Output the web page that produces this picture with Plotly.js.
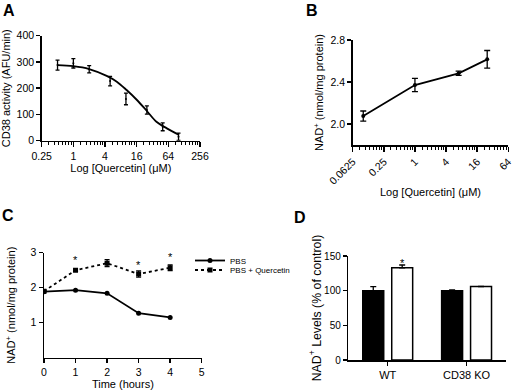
<!DOCTYPE html>
<html><head><meta charset="utf-8">
<script src="https://cdn.plot.ly/plotly-3.0.1.min.js"></script>
<style>html,body{margin:0;padding:0;background:#fff}#chart{width:512px;height:391px}</style>
</head><body><div id="chart"></div>
<script>
// ---------- Panel A ----------
const concA = [0.5, 1, 2, 5, 10, 25, 50, 100];
const cd38A = [288, 295, 272, 227, 159, 117, 53, 15];
const errA = [19, 18, 14, 18, 22, 16, 15, 14];
const fitConcA = [0.5, 1, 2, 4.3, 6.7, 10.3, 16, 24.8, 38, 60, 102];
const fitA = [288, 284, 273, 247, 225, 193, 156, 114, 72, 47, 22];
const tickA = [0.25, 1, 4, 16, 64, 256];
const tickTextA = ['0.25', '1', '4', '16', '64', '256'];
// ---------- Panel B ----------
const concB = [0.1, 1, 7, 25];
const nadB = [2.076, 2.371, 2.483, 2.616];
const errB = [0.048, 0.063, 0.02, 0.084];
const tickB = [0.0625, 0.25, 1, 4, 16, 64];
const tickTextB = ['0.0625', '0.25', '1', '4', '16', '64'];
// ---------- Panel C ----------
const timeC = [0, 1, 2, 3, 4];
const pbsC = [1.886, 1.93, 1.84, 1.27, 1.15];
const pbsQC = [1.9, 2.50, 2.70, 2.39, 2.57];
const errQC = [0, 0.03, 0.1, 0.09, 0.08];
const starTimeC = [1, 2, 3, 4];
const starYC = [2.87, 3.08, 2.74, 2.95];
// ---------- Panel D ----------
const groupsD = ['WT', 'CD38 KO'];
const ctrlD = [100, 100];
const ctrlErrD = [5.8, 1];
const querD = [133, 106];
const querErrD = [4, 0];

const W = 512, H = 391;
const dx = (a, b) => [a / W, b / W];
const dy = (top, bot) => [1 - bot / H, 1 - top / H];

function minorTicks(majors) {
  const out = [];
  for (let i = 0; i < majors.length - 1; i++) {
    const a = majors[i];
    for (let k = 1; k <= 7; k++) out.push(a * (1 + k * 3 / 8));
  }
  return out;
}

const FONT = 'Liberation Sans, Arial, sans-serif';
const base = {
  showline: true, linecolor: '#000', linewidth: 1.5,
  ticks: 'outside', ticklen: 4, tickwidth: 1.5, tickcolor: '#000',
  showgrid: false, zeroline: false, tickfont: {size: 10.5, color: '#000'},
  ticklabeloverflow: 'allow', fixedrange: true
};
const ttl = (t, s, f) => ({text: t, font: {size: f || 11, color: '#000'}, standoff: s});
const eb = (arr, w) => ({type: 'data', array: arr, visible: true, color: '#000', thickness: 1.3, width: w});

const traces = [
  // A
  {x: fitConcA, y: fitA, xaxis: 'x', yaxis: 'y', mode: 'lines', line: {color: '#000', width: 1.8, shape: 'spline'}, showlegend: false, hoverinfo: 'skip'},
  {x: concA, y: cd38A, xaxis: 'x', yaxis: 'y', mode: 'markers', marker: {color: '#000', size: 2}, error_y: eb(errA, 2), showlegend: false},
  // B
  {x: concB, y: nadB, xaxis: 'x2', yaxis: 'y2', mode: 'lines+markers', line: {color: '#000', width: 1.8}, marker: {color: '#000', size: 4}, error_y: eb(errB, 3), showlegend: false},
  // C
  {x: timeC, y: pbsC, xaxis: 'x3', yaxis: 'y3', mode: 'lines+markers', name: 'PBS', legend: 'legend', line: {color: '#000', width: 1.8}, marker: {color: '#000', size: 5, symbol: 'circle'}},
  {x: timeC, y: pbsQC, xaxis: 'x3', yaxis: 'y3', mode: 'lines+markers', name: 'PBS + Quercetin', legend: 'legend2', line: {color: '#000', width: 1.8, dash: 'dot'}, marker: {color: '#000', size: 5, symbol: 'square'}, error_y: eb(errQC, 2.5)},
  // D
  {x: groupsD, y: ctrlD, xaxis: 'x4', yaxis: 'y4', type: 'bar', marker: {color: '#000', line: {color: '#000', width: 1.5}}, error_y: Object.assign(eb(ctrlErrD, 3), {symmetric: false, arrayminus: [0, 0]}), showlegend: false},
  {x: groupsD, y: querD, xaxis: 'x4', yaxis: 'y4', type: 'bar', marker: {color: '#fff', line: {color: '#000', width: 1.5}}, error_y: Object.assign(eb(querErrD, 3), {symmetric: false, arrayminus: [0, 0]}), showlegend: false}
];

const annotations = [
  {text: '<b>A</b>', x: 1 / W, y: 1, xref: 'paper', yref: 'paper', xanchor: 'left', yanchor: 'top', showarrow: false, font: {size: 16, color: '#000'}},
  {text: '<b>B</b>', x: 304 / W, y: 1, xref: 'paper', yref: 'paper', xanchor: 'left', yanchor: 'top', showarrow: false, font: {size: 16, color: '#000'}},
  {text: '<b>C</b>', x: 0, y: 1 - 205 / H, xref: 'paper', yref: 'paper', xanchor: 'left', yanchor: 'top', showarrow: false, font: {size: 16, color: '#000'}},
  {text: '<b>D</b>', x: 292 / W, y: 1 - 207 / H, xref: 'paper', yref: 'paper', xanchor: 'left', yanchor: 'top', showarrow: false, font: {size: 16, color: '#000'}}
];
starTimeC.forEach((t, i) => annotations.push({text: '*', x: t, y: starYC[i], xref: 'x3', yref: 'y3', showarrow: false, yanchor: 'middle', yshift: -3, font: {size: 11, color: '#000'}}));
annotations.push({text: '*', x: 'WT', y: 144, xref: 'x4', yref: 'y4', xshift: 14.5, showarrow: false, yanchor: 'middle', yshift: -3, font: {size: 11, color: '#000'}});

const layout = {
  width: W, height: H, margin: {l: 0, r: 0, t: 0, b: 0},
  paper_bgcolor: '#fff', plot_bgcolor: '#fff',
  font: {family: FONT, color: '#000'},
  barmode: 'group', bargap: 0.266, bargroupgap: 0.276,
  xaxis: Object.assign({}, base, {domain: dx(41.7, 200), anchor: 'y', type: 'log',
    range: [Math.log10(0.25) - 1e-6, Math.log10(256) + 1e-6], tickmode: 'array', tickvals: tickA, ticktext: tickTextA, ticklen: 5,
    minor: {tickmode: 'array', tickvals: minorTicks(tickA), ticks: 'outside', ticklen: 3, tickwidth: 1, tickcolor: '#000'},
    title: ttl('Log [Quercetin] (\u03bcM)', 1)}),
  yaxis: Object.assign({}, base, {domain: dy(35.7, 140.7), anchor: 'x', range: [0, 400], tickvals: [0, 100, 200, 300, 400],
    title: ttl('CD38 activity (AFU/min)', 5)}),
  xaxis2: Object.assign({}, base, {domain: dx(352.7, 508.3), anchor: 'y2', type: 'log',
    range: [Math.log10(0.0625) - 1e-6, Math.log10(64) + 1e-6], tickmode: 'array', tickvals: tickB, ticktext: tickTextB, tickangle: -45, ticklen: 5,
    minor: {tickmode: 'array', tickvals: minorTicks(tickB), ticks: 'outside', ticklen: 3, tickwidth: 1, tickcolor: '#000'},
    title: ttl('Log [Quercetin] (\u03bcM)', 2)}),
  yaxis2: Object.assign({}, base, {domain: dy(40, 145), anchor: 'x2', range: [1.8, 2.8], tickvals: [2.0, 2.4, 2.8], tickformat: '.1f',
    title: ttl('NAD<sup>+</sup> (nmol/mg protein)', 4)}),
  xaxis3: Object.assign({}, base, {domain: dx(44, 201.7), anchor: 'y3', range: [0, 5], tickvals: [0, 1, 2, 3, 4, 5],
    title: ttl('Time (hours)', 2)}),
  yaxis3: Object.assign({}, base, {domain: dy(252.7, 357.7), anchor: 'x3', range: [0, 3], tickvals: [1, 2, 3],
    title: ttl('NAD<sup>+</sup> (nmol/mg protein)', 12)}),
  xaxis4: Object.assign({}, base, {domain: dx(348.3, 506), anchor: 'y4', type: 'category', range: [-0.5, 1.5], ticks: 'outside',
    tickfont: {size: 11, color: '#000'}}),
  yaxis4: Object.assign({}, base, {domain: dy(256, 360), anchor: 'x4', range: [0, 150], tickvals: [0, 50, 100, 150],
    tickfont: {size: 10, color: '#000'},
    title: ttl('NAD<sup>+</sup> Levels (% of control)', 0, 12.3)}),
  legend: {x: 190 / W, y: 1 - 260.5 / H, xanchor: 'left', yanchor: 'middle', font: {size: 8, color: '#000'}, itemwidth: 30, bgcolor: 'rgba(0,0,0,0)'},
  legend2: {x: 190 / W, y: 1 - 270 / H, xanchor: 'left', yanchor: 'middle', font: {size: 8, color: '#000'}, itemwidth: 30, bgcolor: 'rgba(0,0,0,0)'},
  annotations: annotations
};

Plotly.newPlot('chart', traces, layout, {staticPlot: true, displayModeBar: false});
</script>
</body></html>
